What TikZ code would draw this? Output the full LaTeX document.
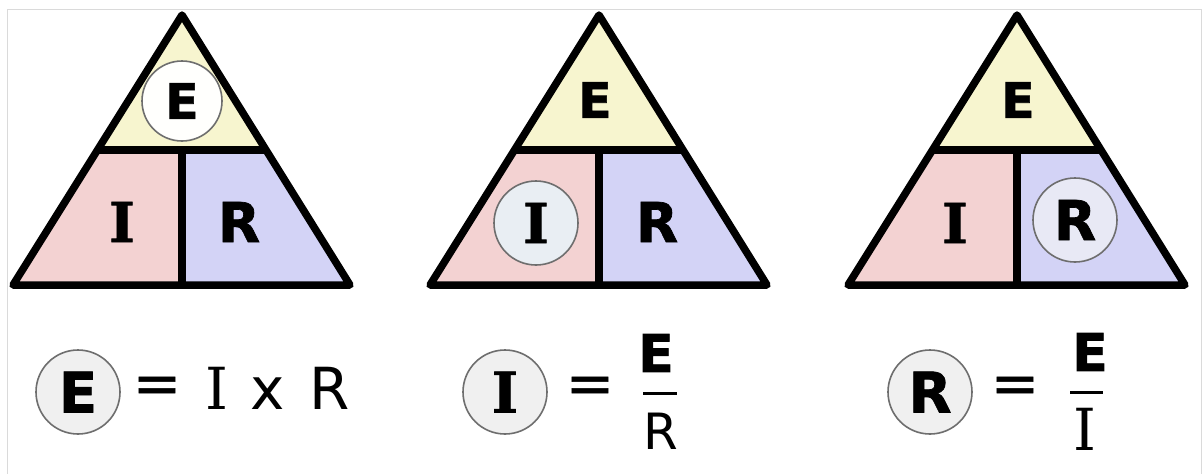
\documentclass[tikz,border=0pt]{standalone}
\usepackage{fontspec}
\setmainfont{DejaVu Sans}
\newfontfamily\serifI{DejaVu Serif}
\newfontfamily\heavy[FakeBold=1.2]{DejaVu Sans Bold}
\newfontfamily\heavyI[FakeBold=1.2]{DejaVu Serif Bold}
\newfontfamily\medeq[FakeBold=0.6]{DejaVu Sans}
\definecolor{yelc}{HTML}{F7F5CF}
\definecolor{pnkc}{HTML}{F3D2D2}
\definecolor{bluc}{HTML}{D3D3F6}
\definecolor{ringc}{HTML}{6E6E6E}
\definecolor{framec}{HTML}{DADADA}
\tikzset{
  triline/.style={draw=black, line width=7.5pt, line join=round},
  biglet/.style={inner sep=0pt, font=\fontsize{55}{55}\heavy},
  toplet/.style={inner sep=0pt, font=\fontsize{49}{49}\heavy},
  eqlet/.style={inner sep=0pt, font=\fontsize{58}{58}\selectfont},
  eqbold/.style={inner sep=0pt, font=\fontsize{56}{56}\heavy},
  ring/.style={circle, draw=ringc, line width=1.6pt, minimum size=#1, inner sep=0pt},
  fracbar/.style={line width=3pt, black}
}
\newcommand\ohmtri{%
  \fill[yelc] (182,15) -- (97.5,150) -- (266.5,150) -- cycle;
  \fill[pnkc] (97.5,150) -- (182,150) -- (182,285) -- (13,285) -- cycle;
  \fill[bluc] (182,150) -- (266.5,150) -- (350,285) -- (182,285) -- cycle;
  \draw[triline] (182,15) -- (13,285) -- (350,285) -- cycle;
  \draw[triline] (97.5,150) -- (266.5,150) (182,150) -- (182,285);
}
\begin{document}
\begin{tikzpicture}[x=1pt,y=-1pt]
\useasboundingbox (0,0) rectangle (1203,474);
\fill[white] (0,0) rectangle (1203,474);
\draw[framec, line width=1pt] (7,474) -- (7,9) -- (1201,9) -- (1201,474);
% triangle 1
\begin{scope}
  \ohmtri
  \node[ring=80pt, fill=white!95!yelc, toplet] (e1) at (182,101) {E};
  \node[biglet] (i1) at (122,222) {\heavyI I};
  \node[biglet] (r1) at (239,222) {R};
\end{scope}
% triangle 2
\begin{scope}[xshift=417pt]
  \ohmtri
  \node[toplet] (e2) at (178,100) {E};
  \node[ring=84pt, fill={rgb,255:red,233;green,238;blue,243}, biglet] (i2) at (119,223) {\heavyI I};
  \node[biglet] (r2) at (240,222) {R};
\end{scope}
% triangle 3
\begin{scope}[xshift=835pt]
  \ohmtri
  \node[toplet] (e3) at (183,100) {E};
  \node[biglet] (i3) at (120,223) {\heavyI I};
  \node[ring=84pt, fill={rgb,255:red,232;green,233;blue,245}, biglet] (r3) at (240,220) {R};
\end{scope}
% formula 1
\node[ring=84pt, fill=white!94!black, eqbold] (fe1) at (78,392) {E};
\node[eqlet, font=\fontsize{58}{58}\medeq] (eq1) at (157,390) {=};
\node[eqlet] (fi1) at (217,388) {\serifI I};
\node[eqlet] (fx1) at (268,394) {x};
\node[eqlet] (fr1) at (330,388) {R};
% formula 2
\node[ring=84pt, fill=white!94!black, eqbold] (fi2) at (505,392) {\heavyI I};
\node[eqlet, font=\fontsize{58}{58}\medeq] (eq2) at (590,390) {=};
\node[eqbold, font=\fontsize{52}{52}\heavy] (fn2) at (656,353) {E};
\draw[fracbar] (643,393) -- (677,393);
\node[eqlet, font=\fontsize{50}{50}\selectfont] (fd2) at (661,431) {R};
% formula 3
\node[ring=84pt, fill=white!94!black, eqbold] (fr3) at (930,392) {R};
\node[eqlet, font=\fontsize{58}{58}\medeq] (eq3) at (1015,390) {=};
\node[eqbold, font=\fontsize{52}{52}\heavy] (fn3) at (1090,352) {E};
\draw[fracbar] (1070,392) -- (1103,392);
\node[eqlet] (fd3) at (1085,429) {\serifI I};
\end{tikzpicture}
\end{document}
